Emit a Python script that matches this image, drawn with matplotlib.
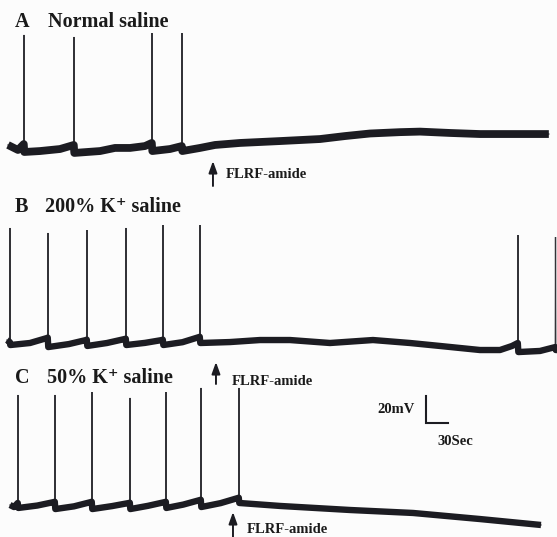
import matplotlib
matplotlib.use("Agg")
import matplotlib.pyplot as plt
import matplotlib.transforms as mtransforms
import numpy as np

# ---------------- data (time in s, membrane potential in mV) ----------------
# Trace A: normal saline
t_a = [0.0, 13.6, 21.5, 21.8, 22.2, 43.6, 70.9, 89.7, 90.0, 90.4, 125.5, 145.9,
       166.4, 186.8, 196.1, 196.4, 196.8, 220.9, 237.0, 237.3, 237.7, 261.8,
       282.3, 316.4, 370.9, 425.5, 459.5, 493.6, 534.5, 561.8, 602.7, 643.6,
       698.2, 737.5]
v_a = [-53.5, -57.2, -52.8, 28.0, -58.7, -58.0, -56.5, -53.5, 26.5, -59.4,
       -58.0, -55.7, -55.7, -54.3, -52.0, 29.4, -58.0, -56.5, -54.3, 29.4,
       -58.0, -55.7, -53.5, -52.0, -50.6, -49.1, -46.9, -45.0, -44.0, -43.6,
       -44.6, -45.4, -45.4, -45.4]

# Trace B: 200% K+ saline
t_b = [-1.4, 2.4, 2.7, 3.1, 30.0, 53.2, 54.2, 54.5, 54.9, 83.0, 106.4, 107.4,
       107.7, 108.1, 135.0, 159.5, 160.6, 160.9, 161.3, 187.0, 210.0, 211.1,
       211.4, 211.8, 238.0, 260.5, 261.5, 261.8, 262.2, 302.7, 343.6, 384.5,
       439.1, 497.7, 548.2, 589.1, 643.6, 670.9, 687.3, 695.2, 695.5, 695.9,
       725.5, 746.3, 746.6, 747.0, 748.6]
v_b = [-52.8, -54.3, 30.2, -56.5, -55.0, -51.3, -51.0, 26.5, -58.0, -55.8,
       -52.8, -52.5, 28.7, -57.2, -55.0, -52.0, -51.8, 30.2, -56.5, -54.9,
       -52.8, -52.5, 32.4, -56.5, -54.4, -50.6, -50.4, 32.4, -55.0, -54.3,
       -52.8, -52.8, -55.0, -52.8, -55.0, -57.2, -60.2, -60.2, -57.2, -55.0,
       25.0, -61.7, -60.9, -58.0, 23.5, -60.2, -60.2]

# Trace C: 50% K+ saline
t_c = [2.7, 8.2, 13.3, 13.6, 14.0, 40.0, 62.7, 63.8, 64.1, 64.5, 90.0, 113.2,
       114.2, 114.5, 114.9, 142.0, 165.0, 166.1, 166.4, 166.8, 191.0, 214.1,
       215.2, 215.5, 215.9, 239.0, 261.8, 262.9, 263.2, 263.6, 290.0, 313.6,
       314.7, 315.0, 315.4, 370.9, 466.4, 552.3, 643.6, 726.8]
v_c = [-55.0, -56.5, -53.5, 26.5, -57.2, -55.4, -52.8, -52.6, 26.5, -58.0,
       -56.0, -52.8, -52.6, 28.7, -58.0, -55.8, -53.5, -53.3, 24.3, -58.0,
       -55.6, -52.8, -52.6, 28.7, -57.2, -54.7, -51.3, -51.1, 31.7, -56.5,
       -53.6, -49.8, -49.6, 31.7, -53.5, -55.7, -58.7, -60.9, -65.4, -69.8]

# FLRF-amide application times (s)
flrf_times = [279.5, 283.6, 306.8]

trace_titles = ["Normal saline", "200% K\u207a saline", "50% K\u207a saline"]
panel_letters = ["A", "B", "C"]
scale_mv = 20
scale_s = 30

# ---------------- layout ----------------
W, H = 557, 537
S_PER_PX = 30 / 22
MV_PER_PX = 20 / 27
X0 = 8  # px of t = 0

fig = plt.figure(figsize=(W / 100, H / 100), dpi=100)
bg = "#fcfcfc"
fig.patch.set_facecolor(bg)
ax = fig.add_axes([0, 0, 1, 1])
ax.set_facecolor(bg)
ax.set_xlim(-X0 * S_PER_PX, (W - X0) * S_PER_PX)
ax.set_ylim(-H * MV_PER_PX, 0)
ax.axis("off")

ink = "#1c1c22"
rest_px = [147, 343, 505]
offsets = [-p * MV_PER_PX + 55 for p in rest_px]
thick = [5.6, 4.6, 4.6]

for t, v, off, lw in zip([t_a, t_b, t_c], [v_a, v_b, v_c], offsets, thick):
    t = np.asarray(t)
    v = np.asarray(v)
    ax.plot(t, v + off, color="#333338", lw=0.9, solid_joinstyle="miter")
    base = v < -20
    ax.plot(t[base], v[base] + off, color=ink, lw=lw,
            solid_capstyle="butt", solid_joinstyle="round")


def fx(x):
    return x / W


def fy(y):
    return 1 - y / H


font = dict(family=["Liberation Serif", "DejaVu Serif"], fontweight="bold",
            color="#1a1a1a")

# panel labels
lab_y = [27, 212, 383]
title_x = [48, 45, 47]
for letter, title, y, tx in zip(panel_letters, trace_titles, lab_y, title_x):
    fig.text(fx(15), fy(y), letter, fontsize=14.5, va="baseline", ha="left", **font)
    fig.text(fx(tx), fy(y), title, fontsize=14.5, va="baseline", ha="left", **font)

# FLRF arrows
blend = mtransforms.blended_transform_factory(ax.transData, fig.transFigure)
arrow_tip = [161, 362, 512]
arrow_tail = [186, 384, 538]
text_x = [226, 232, 247]
text_y = [178, 385, 533]
for tf, tip, tail, tx, ty in zip(flrf_times, arrow_tip, arrow_tail, text_x, text_y):
    ax.annotate("", xy=(tf, fy(tip)), xytext=(tf, fy(tail)), xycoords=blend,
                textcoords=blend,
                arrowprops=dict(arrowstyle="-|>,head_length=0.5,head_width=0.18",
                                color=ink, lw=1.4,
                                mutation_scale=14, shrinkA=0, shrinkB=0))
    fig.text(fx(tx), fy(ty), "FLRF-amide", fontsize=10.5, va="baseline",
             ha="left", **font)

# scale bar
sx = (426 - X0) * S_PER_PX
sy = -423 * MV_PER_PX
ax.plot([sx, sx, sx + scale_s], [sy + scale_mv, sy, sy], color=ink, lw=1.5,
        solid_joinstyle="miter")
fig.text(fx(377), fy(413), f"{scale_mv}mV", fontsize=10.5, va="baseline",
         ha="left", **font)
fig.text(fx(437), fy(445), f"{scale_s}Sec", fontsize=10.5, va="baseline",
         ha="left", **font)

fig.savefig("out.png", dpi=100, facecolor=bg)
